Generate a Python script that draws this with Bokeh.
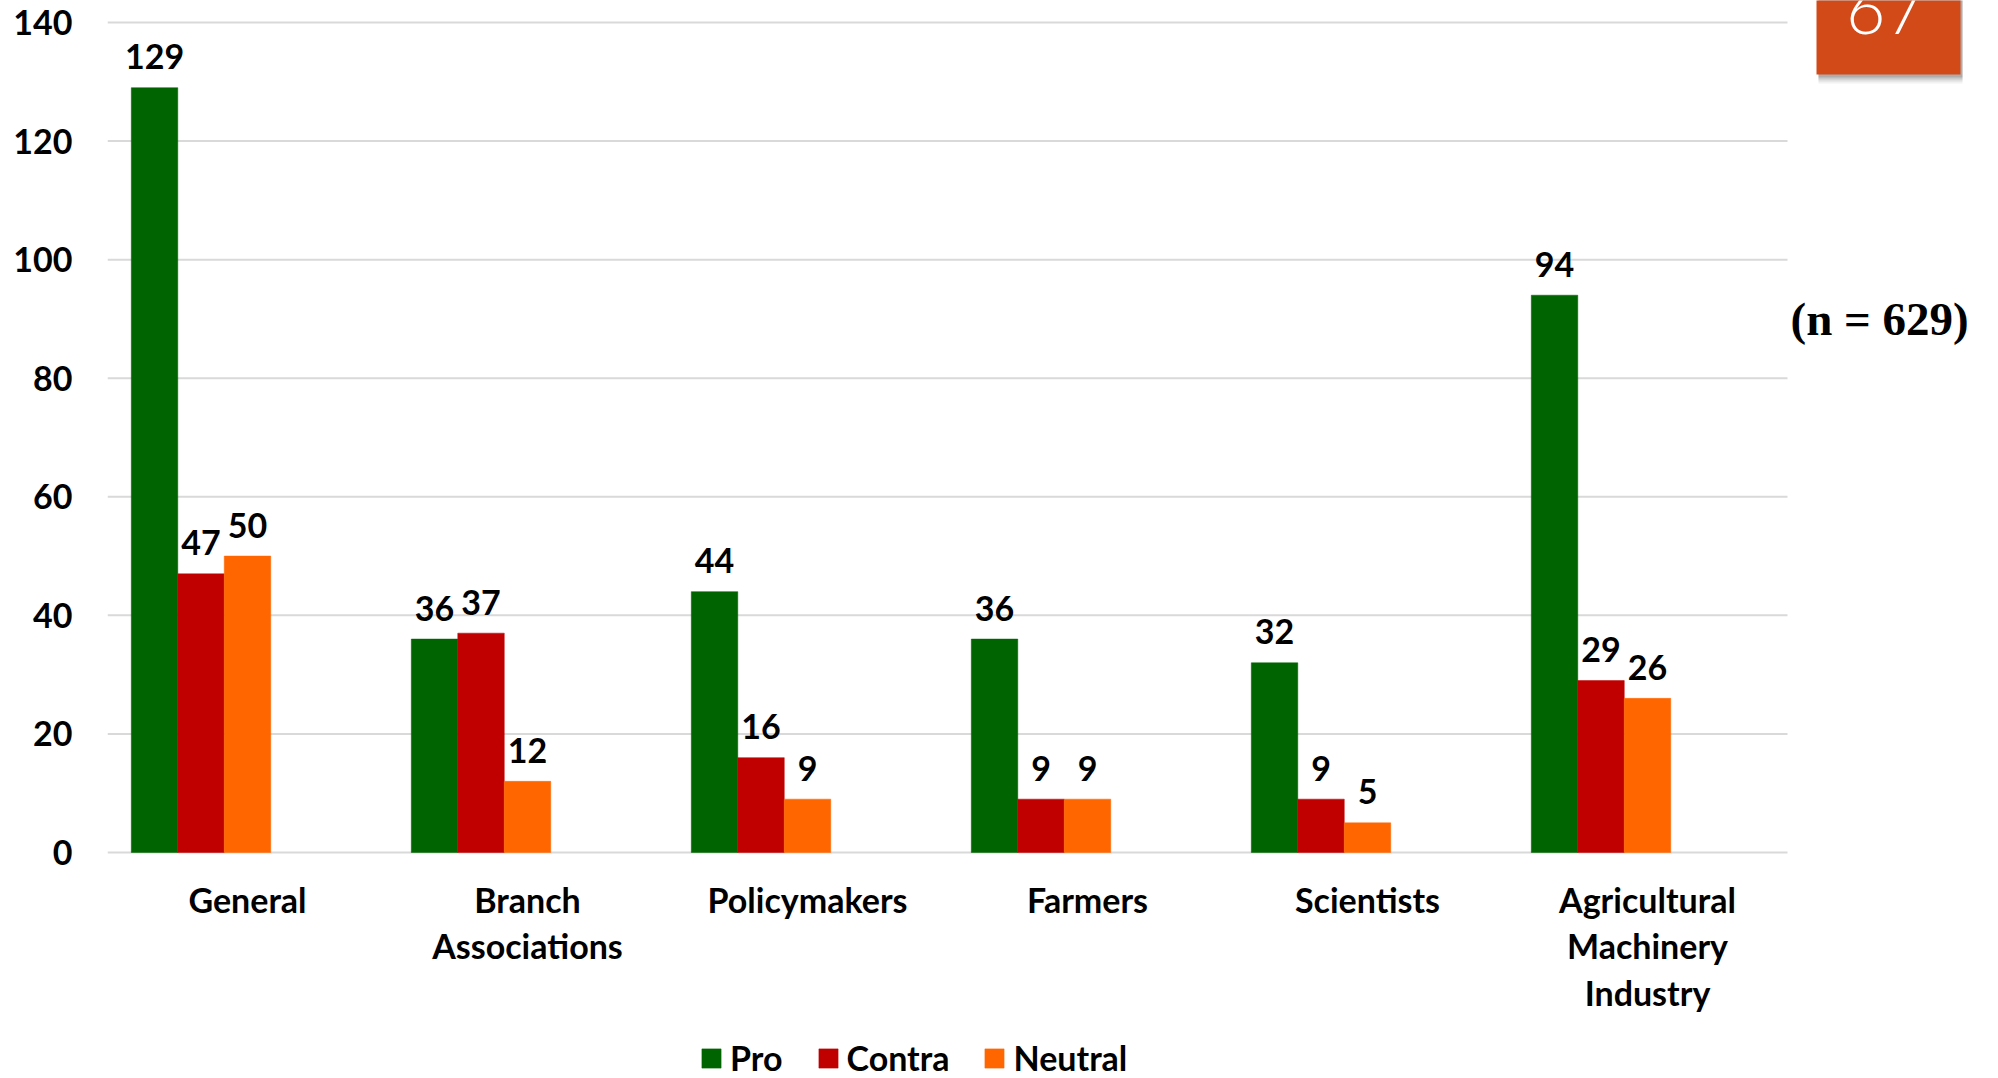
from bokeh.plotting import figure
from bokeh.models import (FixedTicker, Legend, LegendItem, ColumnDataSource,
                          Range1d)
from bokeh.core.properties import value
from bokeh.embed import file_html
from bokeh.resources import INLINE

# ---- data -------------------------------------------------------------
groups = ["General", "Branch\nAssociations", "Policymakers", "Farmers",
          "Scientists", "Agricultural\nMachinery\nIndustry"]
series = ["Pro", "Contra", "Neutral"]
pro = [129, 36, 44, 36, 32, 94]
contra = [47, 37, 16, 9, 9, 29]
neutral = [50, 12, 9, 9, 5, 26]
y_ticks = [0, 20, 40, 60, 80, 100, 120, 140]
sample_note = "(n = 629)"
slide_number = "67"

colors = ["#006400", "#C00000", "#FF6600"]
FONT = "Lato"
FSIZE = "34px"
BAR_W = 0.166
offsets = [-2 * BAR_W, -BAR_W, 0.0]
n_groups = len(groups)

# The plotting frame spans the whole canvas right of the value axis so the
# legend, the sample-size note and the slide tab can live inside it.
W, H = 1998, 1078
LEFT = 107
PX_PER_GROUP = 280.0
ZERO_Y, TOP_Y = 852.0, 22.0
px_per_unit = (ZERO_Y - TOP_Y) / max(y_ticks)

x_end = (W - LEFT) / PX_PER_GROUP
y_start = -(H - ZERO_Y) / px_per_unit
y_end = ZERO_Y / px_per_unit

p = figure(width=W, height=H, x_range=Range1d(0, x_end),
           y_range=Range1d(y_start, y_end),
           output_backend="svg", toolbar_location=None,
           x_axis_location=None,
           min_border_left=LEFT, min_border_right=0,
           min_border_top=0, min_border_bottom=0)
p.outline_line_color = None
p.background_fill_color = "white"
p.border_fill_color = "white"
p.xgrid.grid_line_color = None
p.ygrid.grid_line_color = None

# ---- value axis -------------------------------------------------------
p.yaxis.ticker = FixedTicker(ticks=y_ticks)
p.yaxis.axis_line_color = None
p.yaxis.major_tick_line_color = None
p.yaxis.minor_tick_line_color = None
p.yaxis.major_label_standoff = 29
p.yaxis.major_label_text_font = FONT
p.yaxis.major_label_text_font_style = "bold"
p.yaxis.major_label_text_font_size = FSIZE
p.yaxis.major_label_text_color = "black"

# horizontal gridlines (the zero line doubles as the category baseline)
p.segment(x0=[0] * len(y_ticks), x1=[n_groups] * len(y_ticks),
          y0=y_ticks, y1=y_ticks, line_color="#D9D9D9", line_width=2)

# ---- category labels ----------------------------------------------------
centers = [i + 0.5 for i in range(n_groups)]
p.text(x=centers, y=[0] * n_groups, text=groups, text_align="center",
       text_baseline="top", y_offset=26, text_line_height=1.14,
       text_font=value(FONT), text_font_style="bold",
       text_font_size=FSIZE, text_color="black")

# ---- bars and value labels --------------------------------------------
items = []
for name, vals, off, col in zip(series, [pro, contra, neutral], offsets, colors):
    src = ColumnDataSource(dict(x=[c + off for c in centers], top=vals,
                                label=[str(v) for v in vals]))
    r = p.vbar(x="x", top="top", width=BAR_W, source=src,
               fill_color=col, line_color=col, line_width=0.5)
    p.text(x="x", y="top", text="label", source=src,
           text_align="center", text_baseline="alphabetic", y_offset=-31,
           text_font=value(FONT), text_font_style="bold",
           text_font_size=FSIZE, text_color="black")
    items.append(LegendItem(label=name, renderers=[r]))

legend = Legend(items=items, orientation="horizontal", location=(592, 0),
                glyph_width=24, glyph_height=24, label_standoff=7, spacing=33,
                padding=0, margin=0, border_line_color=None,
                background_fill_alpha=0,
                label_text_font=FONT, label_text_font_style="bold",
                label_text_font_size=FSIZE, label_text_color="black")
p.add_layout(legend, "center")

# ---- sample size note --------------------------------------------------
p.text(x=[(1790 - LEFT) / PX_PER_GROUP], y=[90], text=[sample_note],
       text_align="left", text_baseline="middle",
       text_font=value("Liberation Serif"), text_font_style="bold",
       text_font_size="47px", text_color="black")

# ---- slide number tab (runs off the top edge) ----------------------------
tab_l = (1816 - LEFT) / PX_PER_GROUP
tab_r = (1960 - LEFT) / PX_PER_GROUP
tab_b = (ZERO_Y - 74) / px_per_unit
sh = 1.0 / PX_PER_GROUP
for k, a in [(9, 0.07), (7, 0.10), (5, 0.14), (3, 0.20)]:
    p.quad(left=[tab_l + 2 * sh], right=[tab_r + 2 * sh], top=[y_end + 5],
           bottom=[tab_b - k / px_per_unit], fill_color="#404040",
           fill_alpha=a, line_color=None)
p.quad(left=[tab_l], right=[tab_r], top=[y_end + 5], bottom=[tab_b],
       fill_color="#D34A19", line_color=None)
p.text(x=[(1885 - LEFT) / PX_PER_GROUP], y=[(ZERO_Y - 9) / px_per_unit],
       text=[slide_number], text_align="center", text_baseline="alphabetic",
       text_font=value("Lato Light"), text_font_size="68px",
       text_color="white")

open("out.html", "w").write(file_html(p, INLINE))
